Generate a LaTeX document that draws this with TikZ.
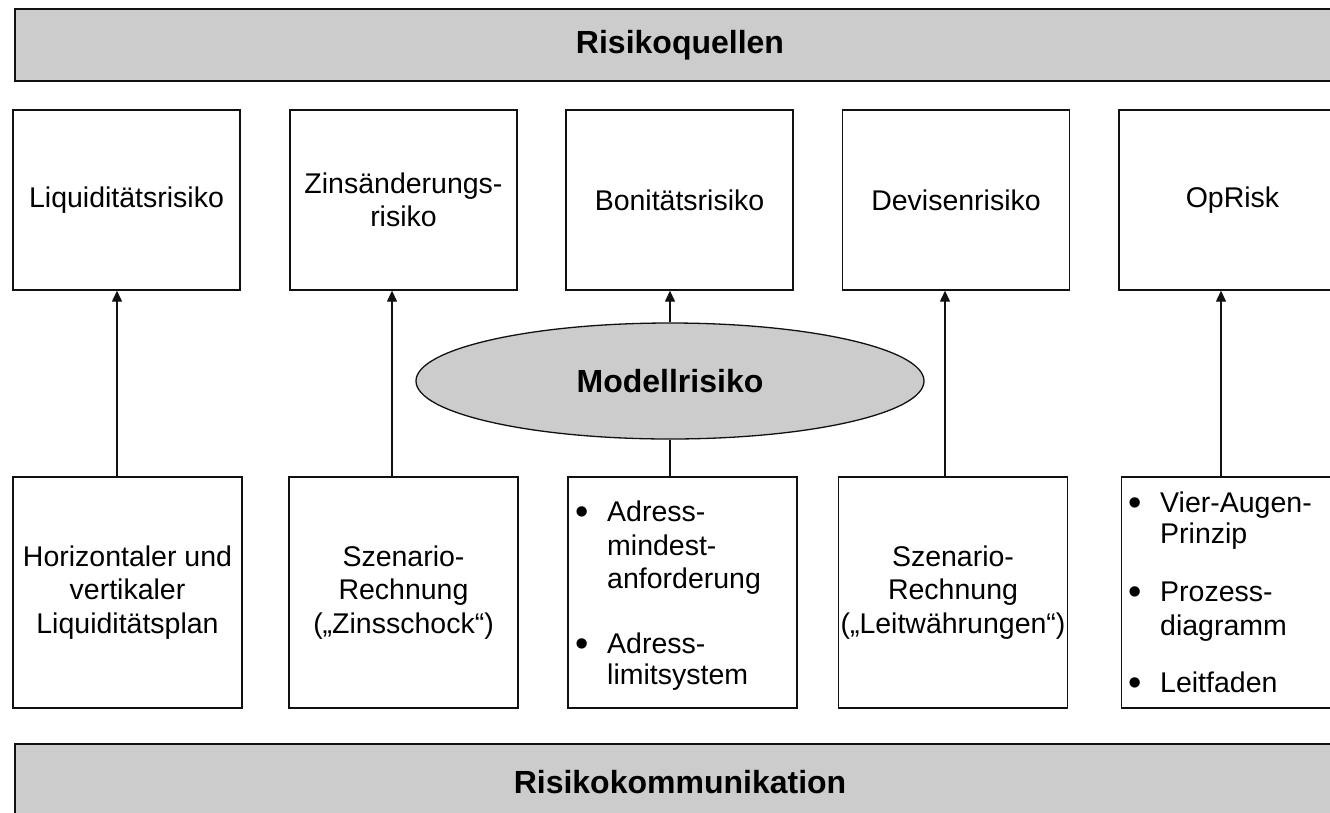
\documentclass[tikz,border=0pt]{standalone}
\usepackage{fontspec}
\setmainfont{Liberation Sans}
\usetikzlibrary{arrows.meta,shapes.geometric}
\definecolor{barGray}{HTML}{CCCCCC}
\definecolor{lineCol}{HTML}{111111}
\begin{document}
\begin{tikzpicture}[x=1pt,y=-1pt,
  bar/.style={draw=lineCol, fill=barGray, line width=1.3pt, minimum width=1330pt, inner sep=0pt,
    font=\bfseries\fontsize{32}{36}\selectfont},
  topbox/.style={draw=lineCol, fill=white, line width=1.3pt, minimum width=227pt, minimum height=180pt,
    inner sep=0pt, align=center, font=\fontsize{28.5}{33.5}\selectfont},
  botbox/.style={draw=lineCol, fill=white, line width=1.3pt, minimum width=229pt, minimum height=231pt,
    inner sep=0pt, align=center, font=\fontsize{28.5}{33.5}\selectfont},
  model/.style={ellipse, draw=lineCol, fill=barGray, line width=1.3pt, minimum width=508pt, minimum height=116pt,
    inner sep=0pt, font=\bfseries\fontsize{32}{36}\selectfont},
  itemline/.style={anchor=base west, inner sep=0pt, font=\fontsize{28.5}{33.5}\selectfont},
  dot/.style={anchor=base, inner sep=0pt, font=\fontsize{38}{40}\selectfont},
  arr/.style={draw=lineCol, line width=1.2pt, -{Triangle[length=11pt,width=10pt]}},
  conn/.style={draw=lineCol, line width=1.2pt}
]
\clip (0,0) rectangle (1330,812);
\fill[white] (0,0) rectangle (1330,812);

% bars
\node[bar, minimum height=72pt] (src) at (680,45) {Risikoquellen};
\node[bar, minimum height=76pt] (comm) at (680,782) {Risikokommunikation};

% top boxes
\node[topbox] (t1) at (126.5,200) {Liquiditätsrisiko};
\node[topbox] (t2) at (403.5,200) {Zinsänderungs-\\risiko};
\node[topbox] (t3) at (679.5,200) {Bonitätsrisiko};
\node[topbox] (t4) at (956,200) {Devisenrisiko};
\node[topbox] (t5) at (1232.5,200) {OpRisk};

% bottom boxes
\node[botbox] (b1) at (127.5,592.5) {Horizontaler und\\vertikaler\\Liquiditätsplan};
\node[botbox] (b2) at (403.5,592.5) {Szenario-\\Rechnung\\(„Zinsschock“)};
\node[botbox] (b3) at (682.5,592.5) {};
\node[botbox] (b4) at (953,592.5) {Szenario-\\Rechnung\\(„Leitwährungen“)};
\node[botbox] (b5) at (1236,592.5) {};

% bullet items, middle box
\node[dot] (d31) at (582,524) {•};
\node[itemline] (l31) at (607,521) {Adress-};
\node[itemline] (l32) at (607,555) {mindest-};
\node[itemline] (l33) at (607,588) {anforderung};
\node[dot] (d32) at (582,656) {•};
\node[itemline] (l34) at (607,653) {Adress-};
\node[itemline] (l35) at (607,684) {limitsystem};

% bullet items, OpRisk box
\node[dot] (d51) at (1135,515) {•};
\node[itemline] (l51) at (1160,512) {Vier-Augen-};
\node[itemline] (l52) at (1160,543) {Prinzip};
\node[dot] (d52) at (1135,604) {•};
\node[itemline] (l53) at (1160,601) {Prozess-};
\node[itemline] (l54) at (1160,635) {diagramm};
\node[dot] (d53) at (1135,695) {•};
\node[itemline] (l55) at (1160,692) {Leitfaden};

% model risk
\node[model] (ell) at (670,381) {Modellrisiko};

% connector columns
\coordinate (ax1) at (117,0);
\coordinate (ax2) at (392,0);
\coordinate (ax4) at (945,0);
\coordinate (ax5) at (1221,0);

\draw[arr] (b1.north -| ax1) -- (t1.south -| ax1);
\draw[arr] (b2.north -| ax2) -- (t2.south -| ax2);
\draw[arr] (b4.north -| ax4) -- (t4.south -| ax4);
\draw[arr] (b5.north -| ax5) -- (t5.south -| ax5);
\draw[conn] (b3.north -| ell.south) -- (ell.south);
\draw[arr] (ell.north) -- (t3.south -| ell.north);
\end{tikzpicture}
\end{document}
